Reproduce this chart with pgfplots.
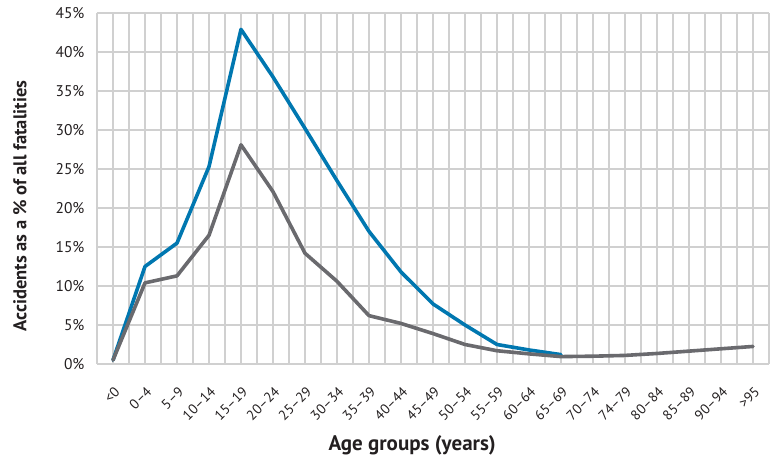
\documentclass[border=0pt]{standalone}
\usepackage{fontspec}
\setmainfont{PT Sans}
\usepackage{pgfplots}
\pgfplotsset{compat=1.18}
\definecolor{lineblue}{HTML}{0077B0}
\definecolor{linegray}{HTML}{6A6A6E}
\definecolor{gridgray}{HTML}{D0D0D0}
\definecolor{txt}{HTML}{231F20}
\begin{document}
\begin{tikzpicture}
\useasboundingbox (-97bp,-95bp) rectangle (678bp,364bp);
\begin{axis}[
  scale only axis,
  width=672bp, height=351bp,
  xmin=-0.5, xmax=20.5,
  ymin=0, ymax=45,
  axis line style={draw=none},
  xtick={0,...,20},
  minor xtick={-0.5,0.5,...,20.5},
  ytick={0,5,...,45},
  yticklabels={0\%,5\%,10\%,15\%,20\%,25\%,30\%,35\%,40\%,45\%},
  xticklabels={<0,0–4,5–9,10–14,15–19,20–24,25–29,30–34,35–39,40–44,45–49,50–54,55–59,60–64,65–69,70–74,74–79,80–84,85–89,90–94,>95},
  major tick length=0pt, minor tick length=0pt,
  grid=both,
  major grid style={gridgray, line width=1.1bp},
  minor grid style={gridgray, line width=1.1bp},
  yticklabel style={font=\fontsize{15.5bp}{17bp}\selectfont, text=txt, xshift=-9bp},
  xticklabel style={font=\fontsize{14bp}{16bp}\selectfont, text=txt, rotate=45, anchor=north east, xshift=-11.7bp, yshift=-12.3bp},
  xlabel={\bfseries Age groups (years)},
  ylabel={\bfseries Accidents as a \% of all fatalities},
  xlabel style={font=\fontsize{21bp}{24bp}\selectfont, text=txt, at={(axis description cs:0.469,-0.231)}, anchor=center},
  ylabel style={font=\fontsize{18.5bp}{22bp}\selectfont, text=txt, at={(axis description cs:-0.1146,0.45)}, anchor=center},
  clip=false,
]
\addplot[lineblue, line width=3.6bp, line join=round, line cap=round] coordinates {
 (0,0.5) (1,12.5) (2,15.5) (3,25.3) (4,42.9) (5,36.8) (6,30.2) (7,23.5) (8,17.0) (9,11.8) (10,7.7) (11,5.0) (12,2.5) (13,1.8) (14,1.2)
};
\addplot[linegray, line width=3.6bp, line join=round, line cap=round] coordinates {
 (0,0.5) (1,10.4) (2,11.3) (3,16.5) (4,28.1) (5,22.1) (6,14.2) (7,10.6) (8,6.2) (9,5.2) (10,3.9) (11,2.5) (12,1.7) (13,1.3) (14,0.95) (15,1.0) (16,1.1) (17,1.35) (18,1.65) (19,1.95) (20,2.25)
};
\end{axis}
\end{tikzpicture}
\end{document}
